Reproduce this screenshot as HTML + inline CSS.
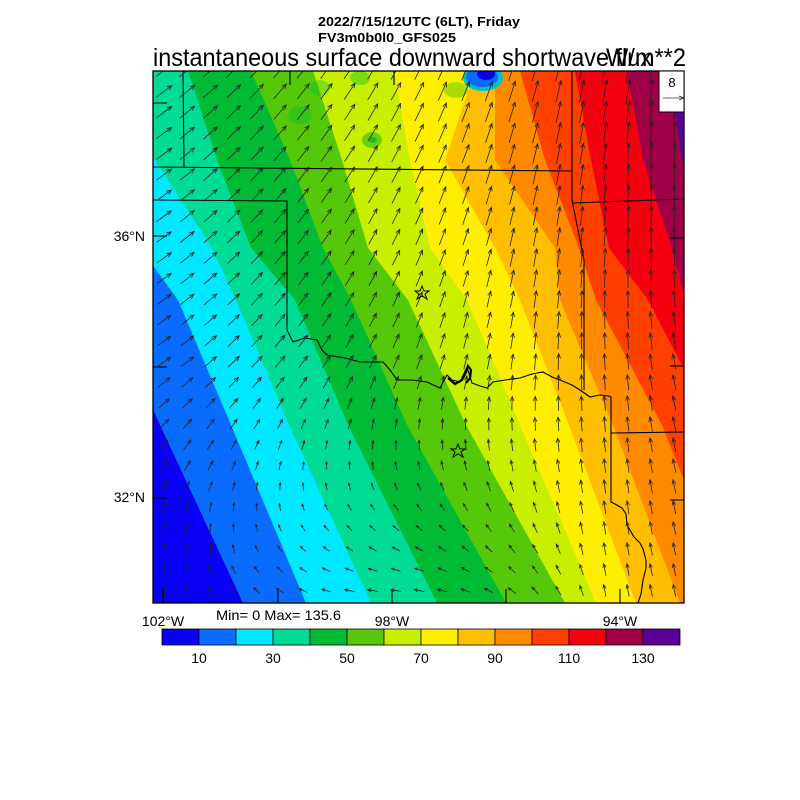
<!DOCTYPE html>
<html><head><meta charset="utf-8">
<style>
html,body{margin:0;padding:0;background:#fff;}
svg{display:block;}
text{font-family:"Liberation Sans",Arial,sans-serif;}
</style></head>
<body>
<svg id="s" width="800" height="800" viewBox="0 0 800 800" xmlns="http://www.w3.org/2000/svg">
<defs><clipPath id="cp"><rect x="153" y="71" width="531" height="532"/></clipPath></defs>
<g id="bands" clip-path="url(#cp)"></g>
<g id="blobs" clip-path="url(#cp)">
<ellipse cx="483" cy="78" rx="20" ry="13" fill="#00c0d0"/>
<ellipse cx="482" cy="77" rx="16" ry="10" fill="#0a6cff"/>
<ellipse cx="486" cy="74" rx="9" ry="6" fill="#0000f5"/>
<ellipse cx="372" cy="140" rx="10" ry="8" fill="#55c80a" opacity="0.8"/>
<ellipse cx="373" cy="140" rx="4" ry="3" fill="#00bb33" opacity="0.8"/>
<ellipse cx="300" cy="115" rx="12" ry="9" fill="#00bb33" opacity="0.4"/>
<ellipse cx="360" cy="78" rx="10" ry="7" fill="#00bb33" opacity="0.4"/>
<ellipse cx="456" cy="90" rx="12" ry="8" fill="#55c80a" opacity="0.5"/>
<ellipse cx="320" cy="88" rx="10" ry="8" fill="#00bb33" opacity="0.35"/>
</g>
<g id="lines" fill="none" stroke="#000" stroke-width="1.1" clip-path="url(#cp)">
<polyline points="153,167 572,171"/>
<polyline points="153,200 287,201 287,330"/>
<polyline points="183,71 184,167"/>
<polyline points="572,71 572,200 584,260 584,390"/>
<polyline points="572,203 684,199"/>
<polyline points="287,330 293,342 305,338 317,340 322,350 327,355 345,358 360,362 383,362 390,370 397,380 412,380 427,382 440,388 447,375 452,380 460,382 467,367 470,377 472,383 480,386 487,388 493,382 505,380 520,378 532,374 543,372 552,377 560,380 572,385 580,390 590,397 600,395 609,396 611,397 611,502 615,504 622,508 626,514 627,525 634,537 640,543 643,549 646,560 646,568 643,580 641,594 638,603"/>
<polyline points="611,433 684,432"/>
<polyline points="153,103 167,103"/><polyline points="153,236 167,236"/><polyline points="153,367 167,367"/><polyline points="153,498 167,498"/>
<polyline points="670,238 684,238"/><polyline points="670,366 684,366"/><polyline points="670,500 684,500"/>
<polyline points="163,603 163,589"/><polyline points="278,603 278,589"/><polyline points="392,603 392,589"/><polyline points="506,603 506,589"/><polyline points="620,603 620,589"/>
<polyline points="290,71 290,85"/><polyline points="394,71 394,85"/>
</g>
<g id="lake" fill="none" stroke="#000" stroke-width="2.2">
<polyline points="448,378 455,384 462,380 466,372 468,366 471,370 470,378 466,383"/>
</g>
<g id="arrows" fill="none" stroke="#222" stroke-width="0.8" clip-path="url(#cp)"></g>
<g fill="none" stroke="#000" stroke-width="1">
<polygon points="422,286 424,291 429,291 425,294 427,299 422,296 417,299 419,294 415,291 420,291"/>
<polygon points="458,444 460,449 465,449 461,452 463,457 458,454 453,457 455,452 451,449 456,449"/>
</g>
<rect x="153" y="71" width="531" height="532" fill="none" stroke="#000" stroke-width="1.3"/>
<rect x="659" y="71" width="25" height="41" fill="#fff" stroke="#000" stroke-width="1"/>
<text x="672" y="87" font-size="13" text-anchor="middle">8</text>
<line x1="663" y1="98" x2="684" y2="98" stroke="#333" stroke-width="0.8"/>
<polyline points="679,96 684,98 679,100" fill="none" stroke="#333" stroke-width="0.8"/>

<text x="318" y="26" font-size="13" font-weight="bold" textLength="202" lengthAdjust="spacingAndGlyphs">2022/7/15/12UTC (6LT), Friday</text>
<text x="318" y="42" font-size="13" font-weight="bold" textLength="138" lengthAdjust="spacingAndGlyphs">FV3m0b0l0_GFS025</text>
<text x="153" y="66" font-size="25" textLength="499" lengthAdjust="spacingAndGlyphs">instantaneous surface downward shortwave flux</text>
<text x="606" y="66" font-size="25" textLength="80" lengthAdjust="spacingAndGlyphs">W/m**2</text>
<text x="145" y="241" font-size="14" text-anchor="end">36°N</text>
<text x="145" y="502" font-size="14" text-anchor="end">32°N</text>
<text x="163" y="626" font-size="14" text-anchor="middle">102°W</text>
<text x="392" y="626" font-size="14" text-anchor="middle">98°W</text>
<text x="620" y="626" font-size="14" text-anchor="middle">94°W</text>
<text x="216" y="620" font-size="14" textLength="125" lengthAdjust="spacingAndGlyphs">Min= 0 Max= 135.6</text>
<g id="cbar"></g>
</svg>
<script>
var NS="http://www.w3.org/2000/svg";
var cols=["#0a00f5","#0a6cff","#00e8ff","#00dc96","#00bb33","#55c80a","#c8ee00","#ffee00","#ffbe00","#ff8a00","#ff4000","#f50010","#a00046","#5a0096"];
var ys=[71,160,248,300,425,603];
var B=[
[-150,-80,26,105,160,243],
[-60,40,140,178,231,306],
[40,155,212,236,289,371],
[188,217,251,295,348,437],
[251,290,323,351,407,506],
[313,342,368,408,466,565],
[394,410,430,467,520,596],
[475,445,495,520,569,636],
[495,495,555,560,613,680],
[520,545,579,596,662,733],
[575,591,609,648,713,785],
[627,643,672,685,765,820],
[669,682,722,763,830,930]];
function el(t,a,p){var e=document.createElementNS(NS,t);for(var k in a)e.setAttribute(k,a[k]);p.appendChild(e);return e;}
var g=document.getElementById("bands");
el("rect",{x:100,y:60,width:700,height:560,fill:cols[0]},g);
for(var i=0;i<B.length;i++){
 var pts=[];
 pts.push("2000,60");pts.push((B[i][0]-20)+",60");
 for(var j=0;j<ys.length;j++){pts.push(B[i][j]+","+ys[j]);}
 pts.push((B[i][5]+20)+",620");pts.push("2000,620");
 el("polygon",{points:pts.join(" "),fill:cols[i+1]},g);
}
var ga=document.getElementById("arrows");
function lerp(a,b,t){return a+(b-a)*t;}
for(var r=-18;r<=7;r++){
 var y=445+20.8*r;
 for(var c=0;c<24;c++){
  var x=164+23.2*c;
  if(x>684||y<68||y>606)continue;
  var X=(x-153)/531,Y=(y-71)/532;
  var uT=14-12*X, vT=10+12*X;
  var uM=12-15*X, vM=8+8*X-10*Math.max(0,X-0.75);
  var s=Math.sin(Math.PI*Math.min(1,Math.max(0,(X-0.05)/0.8)));
  var uB=-2-8*s, vB=10-9*s;
  var u,v;
  if(Y<0.55){var t=Y/0.55;u=lerp(uT,uM,t);v=lerp(vT,vM,t);}
  else{var t=(Y-0.55)/0.45;u=lerp(uM,uB,t);v=lerp(vM,vB,t);}
  var sc=1.15;u*=sc;v*=sc;
  var L=Math.sqrt(u*u+v*v);if(L<3){u=u/L*3;v=v/L*3;L=3;}
  var x1=x-u/2,y1=y+v/2,x2=x+u/2,y2=y-v/2;
  var ang=Math.atan2(y2-y1,x2-x1),h=Math.min(5,L*0.35);
  var a1=ang+Math.PI-0.4,a2=ang+Math.PI+0.4;
  el("path",{d:"M"+x1.toFixed(1)+","+y1.toFixed(1)+"L"+x2.toFixed(1)+","+y2.toFixed(1)+
   "M"+(x2+h*Math.cos(a1)).toFixed(1)+","+(y2+h*Math.sin(a1)).toFixed(1)+"L"+x2.toFixed(1)+","+y2.toFixed(1)+
   "L"+(x2+h*Math.cos(a2)).toFixed(1)+","+(y2+h*Math.sin(a2)).toFixed(1)},ga);
 }
}
var cb=document.getElementById("cbar");
var w=(680-162)/14;
for(var i=0;i<14;i++){el("rect",{x:162+w*i,y:629,width:w,height:16,fill:cols[i],stroke:"#000","stroke-width":0.8},cb);}
for(var k=1;k<=13;k+=2){var t=el("text",{x:162+w*k,y:663,"font-size":14,"text-anchor":"middle"},cb);t.textContent=String(k*10);}
</script>
</body></html>
